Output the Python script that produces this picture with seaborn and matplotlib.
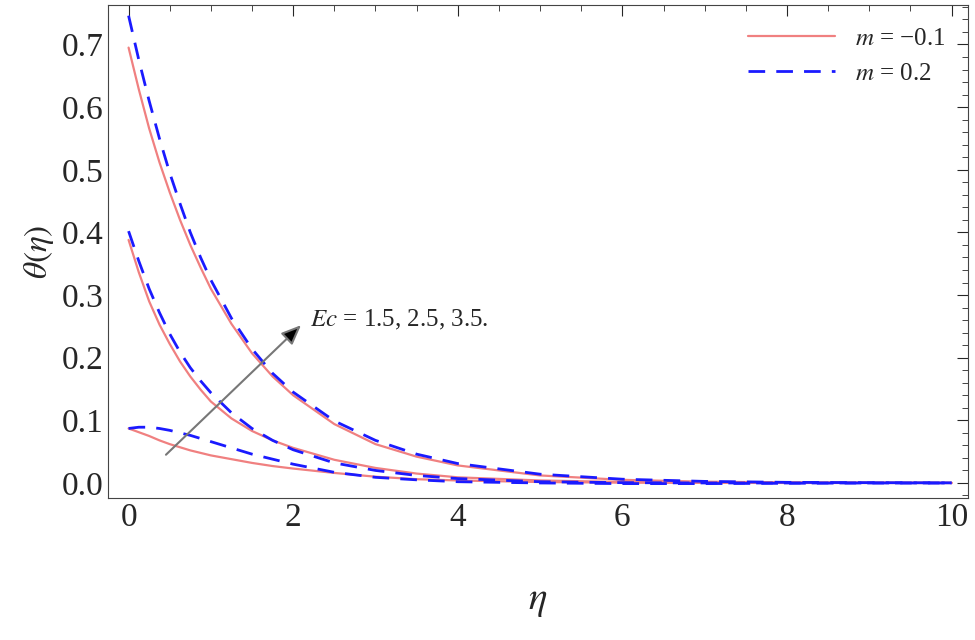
import matplotlib
matplotlib.use("Agg")
import matplotlib.pyplot as plt
import seaborn as sns
import pandas as pd
from matplotlib.ticker import MultipleLocator

eta = [0, 0.125, 0.25, 0.375, 0.5, 0.625, 0.75, 0.875, 1, 1.25, 1.5, 1.75, 2, 2.5, 3, 3.5, 4, 5, 6, 7, 8, 9, 10]
red_top = [0.695, 0.628, 0.566, 0.512, 0.464, 0.420, 0.380, 0.344, 0.310, 0.254, 0.207, 0.170, 0.140, 0.094, 0.062, 0.042, 0.028, 0.012, 0.005, 0.002, 0.001, 0.0005, 0.0002]
blue_top = [0.746, 0.675, 0.610, 0.550, 0.495, 0.446, 0.400, 0.360, 0.324, 0.263, 0.214, 0.175, 0.145, 0.099, 0.068, 0.046, 0.031, 0.014, 0.006, 0.0025, 0.001, 0.0005, 0.0002]
red_mid = [0.388, 0.336, 0.290, 0.253, 0.222, 0.194, 0.170, 0.149, 0.130, 0.103, 0.083, 0.068, 0.056, 0.037, 0.024, 0.015, 0.009, 0.004, 0.0015, 0.0006, 0.0002, 0.0001, 0.0]
blue_mid = [0.402, 0.354, 0.310, 0.272, 0.238, 0.209, 0.184, 0.163, 0.144, 0.112, 0.087, 0.068, 0.053, 0.032, 0.020, 0.012, 0.007, 0.002, 0.0005, 0.0, 0.0, 0.0, 0.0]
red_bot = [0.087, 0.081, 0.075, 0.068, 0.062, 0.057, 0.052, 0.048, 0.044, 0.038, 0.032, 0.027, 0.023, 0.016, 0.010, 0.006, 0.004, 0.0015, 0.0005, 0.0002, 0.0, 0.0, 0.0]
blue_bot = [0.087, 0.089, 0.089, 0.087, 0.084, 0.080, 0.076, 0.071, 0.066, 0.056, 0.046, 0.038, 0.030, 0.017, 0.009, 0.005, 0.002, 0.0, -0.001, -0.001, -0.0005, 0.0, 0.0]

rows = []
for name, ys, m in [("top", red_top, "m1"), ("mid", red_mid, "m1"), ("bot", red_bot, "m1"),
                    ("top", blue_top, "m2"), ("mid", blue_mid, "m2"), ("bot", blue_bot, "m2")]:
    for x, y in zip(eta, ys):
        rows.append({"eta": x, "theta": y, "curve": name + m, "m": m})
df = pd.DataFrame(rows)

sns.set_style("white")
plt.rcParams["font.family"] = ["Liberation Serif", "DejaVu Serif"]
plt.rcParams["mathtext.fontset"] = "stix"

fig = plt.figure(figsize=(9.75, 6.4), dpi=100)
ax = fig.add_axes([108/975, 1-498/640, 860/975, 493/640])

for m, color, ls, lw, lab in [("m1", "#f08080", "-", 1.6, r"$m$ = −0.1"), ("m2", "#1a1aff", (0, (6, 4)), 2.0, r"$m$ = 0.2")]:
    sub = df[df.m == m]
    first = True
    for c in sub.curve.unique():
        d = sub[sub.curve == c]
        sns.lineplot(data=d, x="eta", y="theta", ax=ax, color=color, lw=lw, linestyle=ls,
                     label=lab if first else None, legend=False)
        first = False

ax.set_xlim(-0.25, 10.2)
ax.set_ylim(-0.024, 0.763)
ax.xaxis.set_major_locator(MultipleLocator(2))
ax.xaxis.set_minor_locator(MultipleLocator(0.5))
ax.yaxis.set_major_locator(MultipleLocator(0.1))
ax.yaxis.set_minor_locator(MultipleLocator(0.02))
ax.tick_params(which="both", direction="in", top=True, right=True, labelsize=24)
ax.tick_params(which="major", length=8)
ax.tick_params(which="minor", length=4)
ax.set_xticklabels([f"{int(v)}" for v in ax.get_xticks()])
ax.set_yticklabels([f"{v:.1f}" for v in ax.get_yticks()])
for s in ax.spines.values():
    s.set_color("#444")
ax.set_xlabel(r"$\eta$", fontsize=28, labelpad=35)
ax.set_ylabel(r"$\theta(\eta)$", fontsize=24)

ax.annotate("", xy=(2.12, 0.255), xytext=(0.43, 0.042),
            arrowprops=dict(arrowstyle="-|>,head_length=1.2,head_width=0.5", color="#777", lw=1.5, fc="black", ec="#777"))
ax.text(2.2, 0.25, r"$Ec$ = 1.5, 2.5, 3.5.", fontsize=18)

h, l = ax.get_legend_handles_labels()
ax.legend(h, l, loc="upper right", frameon=False, fontsize=18, handlelength=3.5)

fig.savefig("out.png", dpi=100)
